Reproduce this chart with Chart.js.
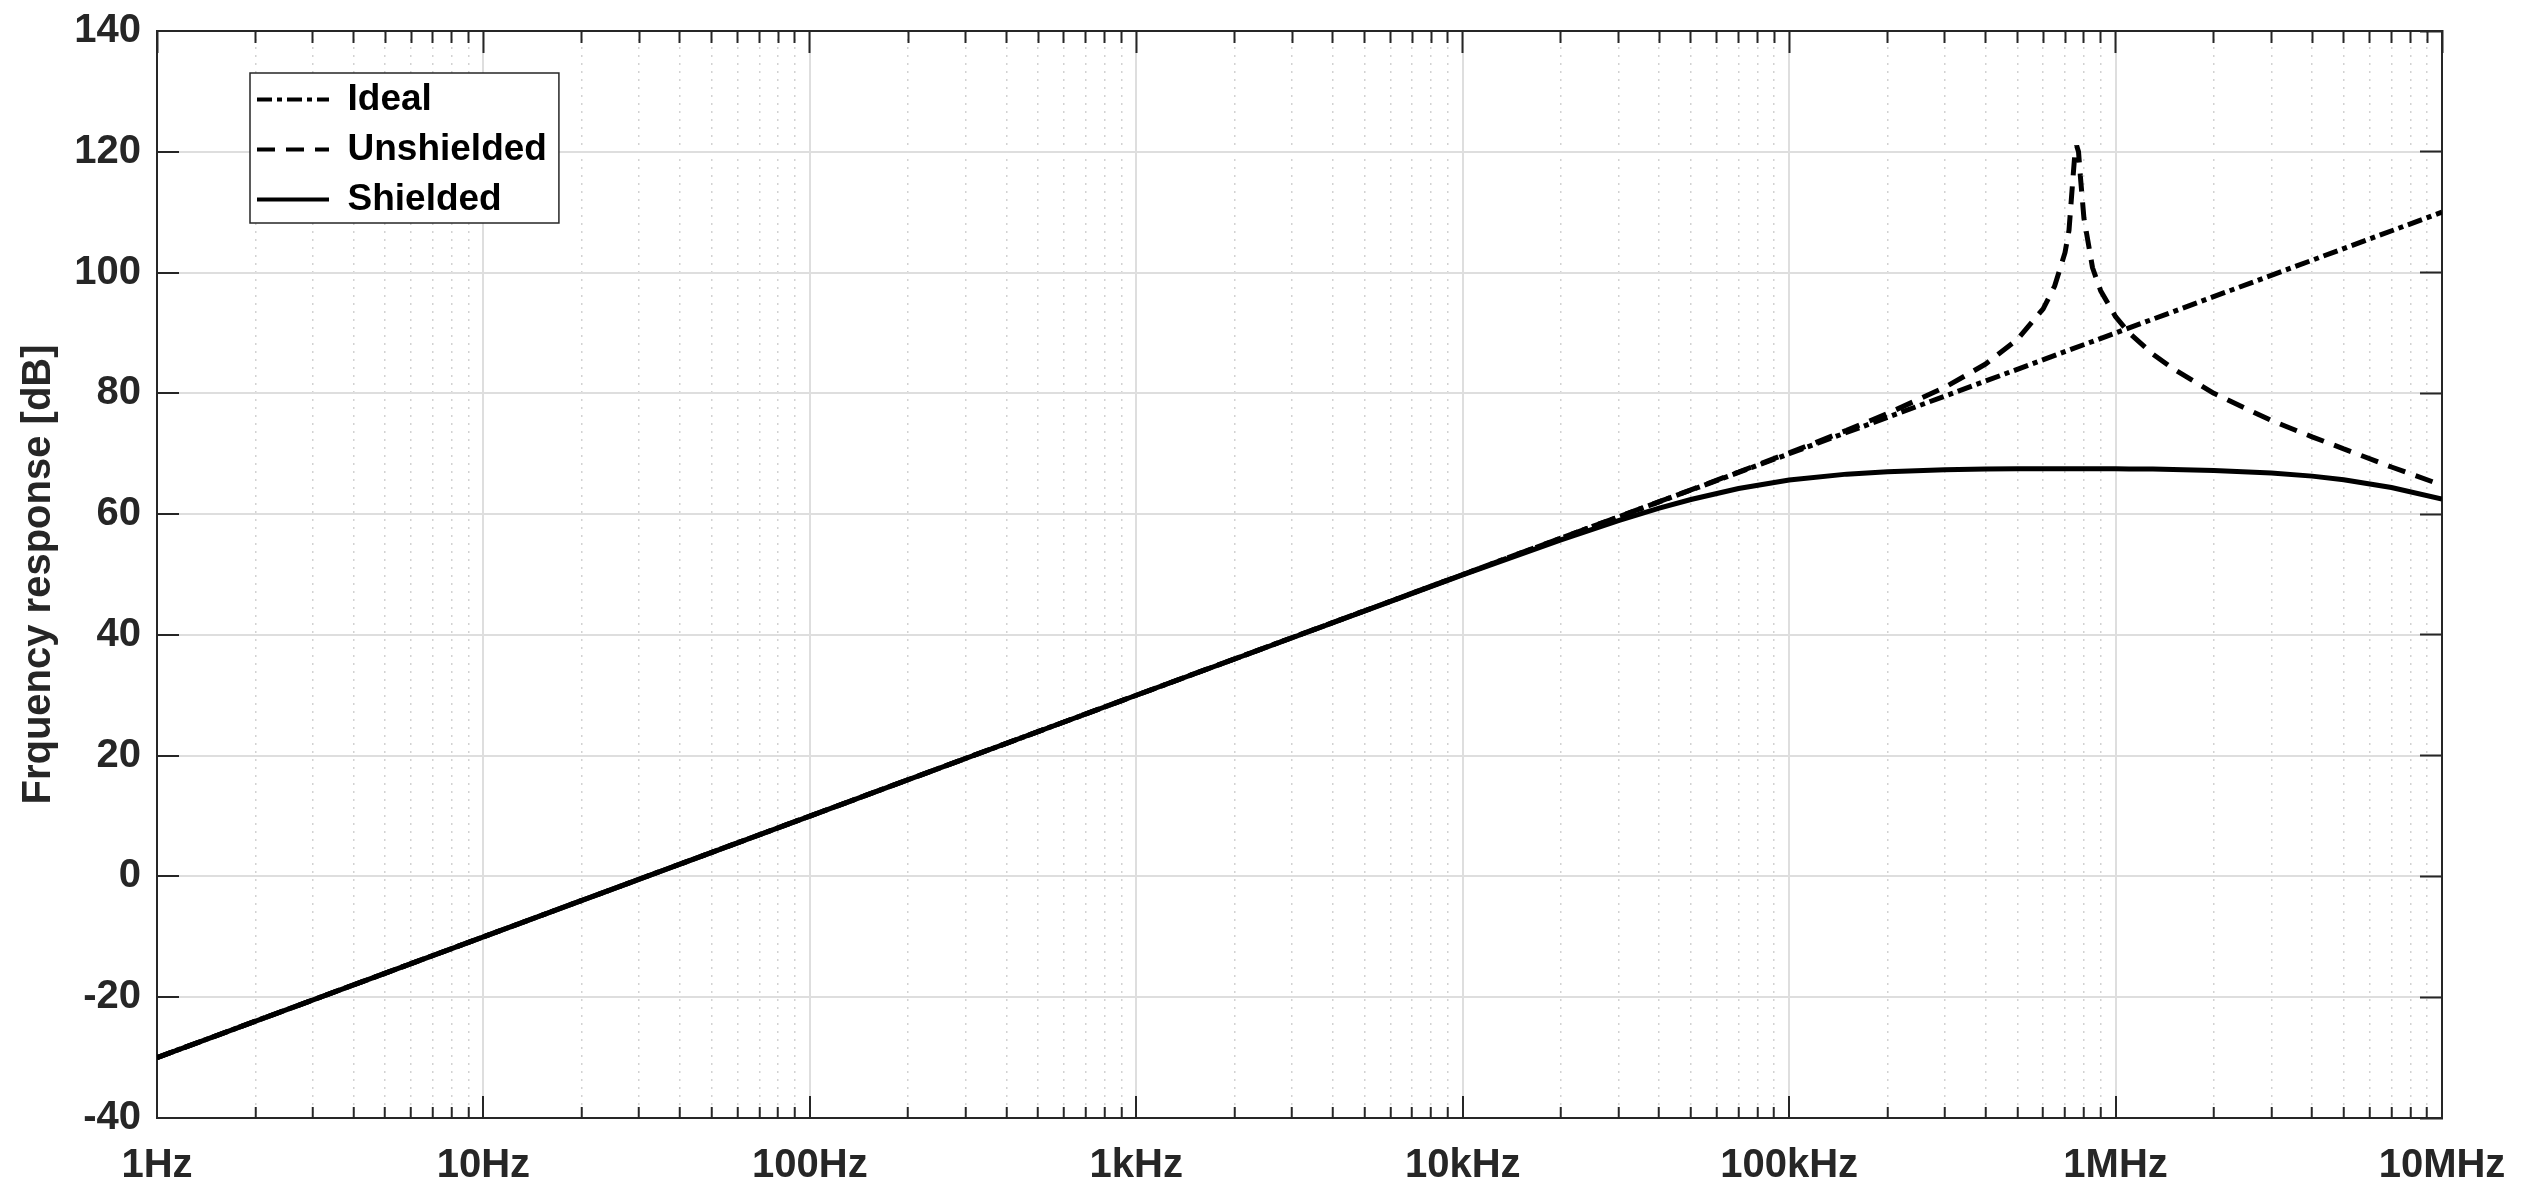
<!DOCTYPE html>
<html>
<head>
<meta charset="utf-8">
<title>Frequency response</title>
<script src="https://cdn.jsdelivr.net/npm/chart.js@4.4.1/dist/chart.umd.min.js"></script>
<style>
  html, body { margin: 0; padding: 0; background: #fff; }
  canvas { display: block; }
</style>
</head>
<body>
<canvas id="chart" width="2532" height="1194"></canvas>
<script>
// x axis: decades and their labels
const decadeHz = [1, 10, 100, 1e3, 1e4, 1e5, 1e6, 1e7];
const decadeLabels = ['1Hz', '10Hz', '100Hz', '1kHz', '10kHz', '100kHz', '1MHz', '10MHz'];
const yTicks = [-40, -20, 0, 20, 40, 60, 80, 100, 120, 140];

// ideal response, straight 20 dB/decade
const idealHz = [1, 10, 100, 1e3, 1e4, 1e5, 1e6, 1e7];
const idealDb = [-30, -10, 10, 30, 50, 70, 90, 110];

// frequencies read for the two measured curves
const freqHz = [1, 10, 100, 1e3, 1e4, 2e4, 3e4, 4e4, 5e4, 7e4, 1e5, 1.5e5, 2e5, 3e5, 4e5,
  5e5, 6e5, 6.5e5, 7e5, 7.2e5, 7.4e5, 7.5e5, 7.6e5, 7.7e5, 7.8e5, 8e5, 8.5e5, 9e5,
  1e6, 1.1e6, 1.3e6, 1.5e6, 2e6, 3e6, 4e6, 5e6, 7e6, 1e7];
const unshieldedDb = [-30, -10, 10, 30, 50, 56.03, 59.55, 62.06, 64.02, 66.97, 70.15, 73.87, 76.64, 81.0, 84.85,
  88.9, 94.0, 97.7, 103.3, 107.0, 115.5, 119.5, 121.0, 120.0, 116.0, 109.0, 100.8, 97.0,
  92.7, 90.0, 86.5, 84.1, 80.0, 75.5, 72.8, 70.8, 67.8, 64.8];
const shieldedDb = [-30, -10, 10, 30, 49.93, 55.73, 58.91, 60.98, 62.42, 64.23, 65.64, 66.62, 67.03, 67.34, 67.46,
  67.52, 67.5, 67.5, 67.5, 67.5, 67.5, 67.5, 67.5, 67.5, 67.5, 67.5, 67.5, 67.5,
  67.5, 67.48, 67.45, 67.4, 67.24, 66.82, 66.29, 65.7, 64.41, 62.5];

const axisColor = '#262626';
const fontFamily = '"Liberation Sans", Arial, Helvetica, sans-serif';
const tickFont = { family: fontFamily, size: 40, weight: 'bold' };

// 1..9 x each decade for the minor grid
const logTicks = [];
decadeHz.forEach(d => {
  if (d === 1e7) { logTicks.push(d); return; }
  for (let k = 1; k <= 9; k++) logTicks.push(d * k);
});
const isDecade = v => decadeHz.includes(v);

const setLogTicks = scale => { scale.ticks = logTicks.map(v => ({ value: v })); };
const setYTicks = scale => { scale.ticks = yTicks.map(v => ({ value: v })); };
// the label paddings would otherwise push the plot area in
const noPad = s => { s.paddingLeft = 0; s.paddingRight = 0; s.paddingTop = 0; s.paddingBottom = 0; };

// legend sits inside the axes with a framed white box
const legendPlacer = {
  id: 'legendPlacer',
  afterLayout(chart) {
    const lg = chart.legend;
    if (!lg) return;
    lg.left = chart.chartArea.left + 87;
    lg.top = chart.chartArea.top + 37;
    if (!lg._framed) {
      const drawOrig = lg.draw.bind(lg);
      lg.draw = function (area) {
        const ctx = this.ctx;
        const n = this.legendItems.length;
        const pad = this.options.labels.padding;
        const x = this.left + 6, y = this.top + 5;
        const w = this.width - 4, h = n * (37 + pad);
        ctx.save();
        ctx.fillStyle = '#fff';
        ctx.fillRect(x, y, w, h);
        ctx.strokeStyle = axisColor;
        ctx.lineWidth = 1.5;
        ctx.strokeRect(x, y, w, h);
        ctx.restore();
        drawOrig(area);
      };
      lg._framed = true;
    }
  }
};

new Chart(document.getElementById('chart'), {
  type: 'line',
  data: {
    datasets: [
      {
        label: 'Ideal',
        data: idealHz.map((f, i) => ({ x: f, y: idealDb[i] })),
        borderColor: '#000',
        borderWidth: 5,
        borderDash: [15, 5, 5, 5]
      },
      {
        label: 'Unshielded',
        data: freqHz.map((f, i) => ({ x: f, y: unshieldedDb[i] })),
        borderColor: '#000',
        borderWidth: 5,
        borderJoinStyle: 'bevel',
        borderDash: [18, 11]
      },
      {
        label: 'Shielded',
        data: freqHz.map((f, i) => ({ x: f, y: shieldedDb[i] })),
        borderColor: '#000',
        borderWidth: 5
      }
    ]
  },
  options: {
    responsive: false,
    devicePixelRatio: 1,
    animation: false,
    elements: { point: { radius: 0 }, line: { tension: 0, fill: false } },
    layout: { padding: { left: 0, top: 31, right: 90, bottom: 0 } },
    plugins: {
      tooltip: { enabled: false },
      legend: {
        position: 'chartArea',
        align: 'start',
        labels: {
          usePointStyle: true,
          pointStyle: 'line',
          pointStyleWidth: 72,
          padding: 13,
          color: '#000',
          font: { family: fontFamily, size: 37, weight: 'bold' },
          // point style makes the legend read the point options; take the line's dash instead
          generateLabels: chart => Chart.defaults.plugins.legend.labels.generateLabels(chart).map(item => {
            const ds = chart.data.datasets[item.datasetIndex];
            return Object.assign(item, {
              lineDash: ds.borderDash || [],
              lineWidth: 4,
              strokeStyle: '#000',
              fillStyle: '#000'
            });
          })
        }
      }
    },
    scales: {
      x: {
        type: 'logarithmic',
        position: 'bottom',
        min: 1,
        max: 1e7,
        afterBuildTicks: setLogTicks,
        afterFit: s => { s.height = 76; noPad(s); },
        ticks: {
          autoSkip: false,
          maxRotation: 0,
          padding: 46,
          color: axisColor,
          font: tickFont,
          callback: v => {
            const i = decadeHz.indexOf(v);
            return i >= 0 ? decadeLabels[i] : '';
          }
        },
        grid: {
          color: c => isDecade(c.tick.value) ? '#dedede' : '#d2d2d2',
          lineWidth: c => isDecade(c.tick.value) ? 2 : 1.5,
          tickLength: -22,
          tickColor: axisColor,
          tickWidth: 2,
          tickBorderDash: c => isDecade(c.tick.value) ? [] : [12, 100]
        },
        border: {
          color: axisColor,
          width: 2,
          dash: c => (c.tick && !isDecade(c.tick.value)) ? [2, 6] : []
        }
      },
      xTop: {
        type: 'logarithmic',
        position: 'top',
        min: 1,
        max: 1e7,
        afterBuildTicks: setLogTicks,
        afterFit: s => { s.height = 0; noPad(s); },
        ticks: { display: false },
        grid: {
          drawOnChartArea: false,
          tickLength: -22,
          tickColor: axisColor,
          tickWidth: 2,
          tickBorderDash: c => isDecade(c.tick.value) ? [] : [0, 10, 12, 100]
        },
        border: { color: axisColor, width: 2 }
      },
      y: {
        type: 'linear',
        position: 'left',
        min: -40,
        max: 140,
        afterBuildTicks: setYTicks,
        afterFit: s => { s.width = 157; noPad(s); },
        ticks: {
          padding: 38,
          color: axisColor,
          font: tickFont
        },
        title: {
          display: true,
          text: 'Frquency response [dB]',
          color: axisColor,
          padding: { top: 15, bottom: 0 },
          font: tickFont
        },
        grid: {
          color: '#dedede',
          lineWidth: 2,
          tickLength: -22,
          tickColor: axisColor,
          tickWidth: 2
        },
        border: { color: axisColor, width: 2 }
      },
      yRight: {
        type: 'linear',
        position: 'right',
        min: -40,
        max: 140,
        afterBuildTicks: setYTicks,
        afterFit: s => { s.width = 0; noPad(s); },
        ticks: { display: false },
        grid: {
          drawOnChartArea: false,
          tickLength: -22,
          tickColor: axisColor,
          tickWidth: 2
        },
        border: { color: axisColor, width: 2 }
      }
    }
  },
  plugins: [legendPlacer]
});
</script>
</body>
</html>
